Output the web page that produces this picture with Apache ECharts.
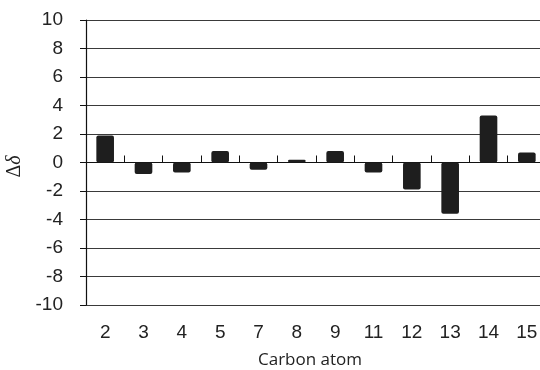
<!DOCTYPE html>
<html>
<head>
<meta charset="utf-8">
<script src="https://cdn.jsdelivr.net/npm/echarts@6/dist/echarts.min.js"></script>
<style>html,body{margin:0;padding:0;background:#fff}#c{width:540px;height:370px}</style>
</head>
<body>
<div id="c"></div>
<script>
var categories = ['2','3','4','5','7','8','9','11','12','13','14','15'];
var values = [1.9, -0.8, -0.7, 0.8, -0.5, 0.2, 0.8, -0.7, -1.9, -3.6, 3.3, 0.7];
var yMin = -10, yMax = 10, yStep = 2;

var sansFont = "'Liberation Sans', Arial, sans-serif";
var chart = echarts.init(document.getElementById('c'), null, {renderer: 'canvas'});
chart.setOption({
  animation: false,
  backgroundColor: '#fff',
  grid: {left: 86, top: 20, width: 460, height: 285, containLabel: false, outerBoundsMode: 'none'},
  xAxis: [{
    type: 'category', data: categories, position: 'bottom',
    axisLine: {onZero: true, lineStyle: {color: '#111', width: 1.2}},
    axisTick: {show: true, inside: true, length: 7, lineStyle: {color: '#111'}},
    axisLabel: {show: false}, splitLine: {show: false}
  }, {
    type: 'category', data: categories, position: 'bottom',
    axisLine: {show: false, onZero: false}, axisTick: {show: false},
    axisLabel: {show: true, margin: 18, fontFamily: sansFont, fontSize: 19, color: '#222'},
    name: 'Carbon atom', nameLocation: 'middle', nameGap: 47,
    nameTextStyle: {fontFamily: "'Open Sans', sans-serif", fontSize: 17, color: '#222', padding: [0, 0, 0, -12]}
  }],
  yAxis: {
    type: 'value', min: yMin, max: yMax, interval: yStep,
    axisLine: {show: true, lineStyle: {color: '#111', width: 1.2}},
    axisTick: {show: true, length: 6, lineStyle: {color: '#111'}},
    axisLabel: {margin: 23, fontFamily: sansFont, fontSize: 19, color: '#222'},
    splitLine: {show: true, lineStyle: {color: '#3a3a3a', width: 1}},
    name: '{a|Δ}{b|δ}', nameLocation: 'middle', nameGap: 58, nameRotate: 90,
    nameTextStyle: {padding: [0, 0, 0, -8], rich: {
      a: {fontFamily: "'Liberation Serif', serif", fontSize: 20, color: '#222'},
      b: {fontFamily: "'Liberation Serif', serif", fontStyle: 'italic', fontSize: 20, color: '#222'}
    }}
  },
  series: [{
    type: 'bar', data: values, xAxisIndex: 0, barWidth: '46%',
    itemStyle: {color: '#1e1e1e', borderRadius: 2}
  }]
});
</script>
</body>
</html>
